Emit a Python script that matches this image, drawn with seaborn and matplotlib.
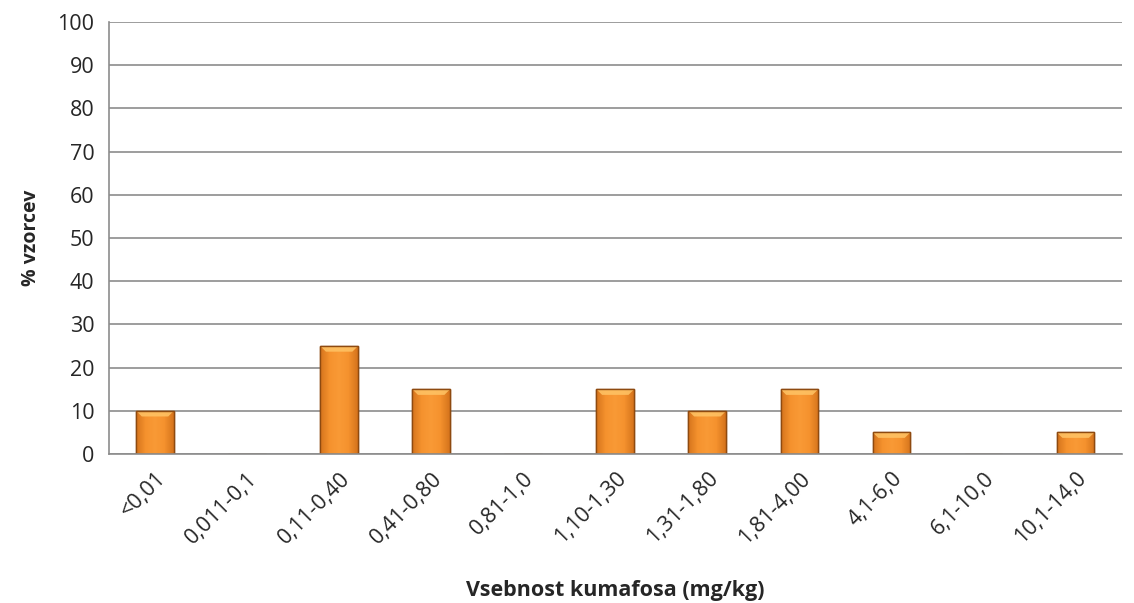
import matplotlib
matplotlib.use('Agg')
import matplotlib.pyplot as plt
import seaborn as sns
import pandas as pd
import numpy as np
from matplotlib.colors import LinearSegmentedColormap

# data
categories = ['<0,01', '0,011-0,1', '0,11-0,40', '0,41-0,80', '0,81-1,0', '1,10-1,30',
              '1,31-1,80', '1,81-4,00', '4,1-6,0', '6,1-10,0', '10,1-14,0']
percent = [10, 0, 25, 15, 0, 15, 10, 15, 5, 0, 5]
yticks = [0, 10, 20, 30, 40, 50, 60, 70, 80, 90, 100]

df = pd.DataFrame({'cat': categories, 'pct': percent})

sns.set_style('white')
plt.rcParams['font.family'] = ['Open Sans', 'DejaVu Sans']

fig = plt.figure(figsize=(11.34, 6.03), dpi=100)
ax = fig.add_axes([0.0961, 0.247, 0.893, 0.7165])

sns.barplot(data=df, x='cat', y='pct', color='#F7962F', edgecolor='#8E4A10',
            linewidth=1.0, width=0.41, saturation=1, ax=ax)

# bevel-like shading on the bars
cmap = LinearSegmentedColormap.from_list('bev', ['#D5741C', '#F5922E', '#F99A36', '#F5922E', '#D5741C'])
grad = np.linspace(0, 1, 64).reshape(1, -1)
for p in ax.patches:
    h = p.get_height()
    if h <= 0:
        continue
    x0, w = p.get_x(), p.get_width()
    im = ax.imshow(grad, cmap=cmap, aspect='auto', extent=[x0, x0 + w, 0, h], zorder=p.get_zorder())
    im.set_clip_path(p)
    top = min(1.3, h * 0.25)
    ax.fill([x0, x0 + w, x0 + w * 0.85, x0 + w * 0.15], [h, h, h - top, h - top],
            color='#FFC466', alpha=0.85, linewidth=0, zorder=p.get_zorder() + 0.1)
    ax.add_patch(plt.Rectangle((x0, 0), w, h, fill=False, edgecolor='#8E4A10', linewidth=1.0,
                               zorder=p.get_zorder() + 0.2))

ax.set_ylim(0, 100)
ax.set_xlim(-0.5, len(categories) - 0.5)
ax.set_yticks(yticks)
ax.yaxis.grid(True, color='#8C8C8C', linewidth=1.2)
ax.set_axisbelow(True)

# x ticks on category boundaries, labels centered on bars
ax.set_xticks([i - 0.5 for i in range(len(categories) + 1)], minor=False)
ax.set_xticklabels([''] * (len(categories) + 1))
ax.set_xticks(range(len(categories)), minor=True)
ax.set_xticklabels(categories, minor=True, rotation=45, ha='right',
                   rotation_mode='anchor', fontsize=15.5)
ax.tick_params(axis='x', which='minor', length=0, pad=10)
ax.tick_params(axis='x', which='major', length=7, width=1.2, color='#8C8C8C', direction='out')
ax.tick_params(axis='y', length=7, width=1.2, color='#8C8C8C', direction='out', labelsize=15.5)

for s in ['top', 'right']:
    ax.spines[s].set_visible(False)
for s in ['left', 'bottom']:
    ax.spines[s].set_color('#8C8C8C')
    ax.spines[s].set_linewidth(1.2)

ax.set_xlabel('Vsebnost kumafosa (mg/kg)', fontsize=15.5, fontweight='bold', labelpad=23)
ax.set_ylabel('% vzorcev', fontsize=14, fontweight='bold', labelpad=12)

plt.savefig('out.png', dpi=100)
